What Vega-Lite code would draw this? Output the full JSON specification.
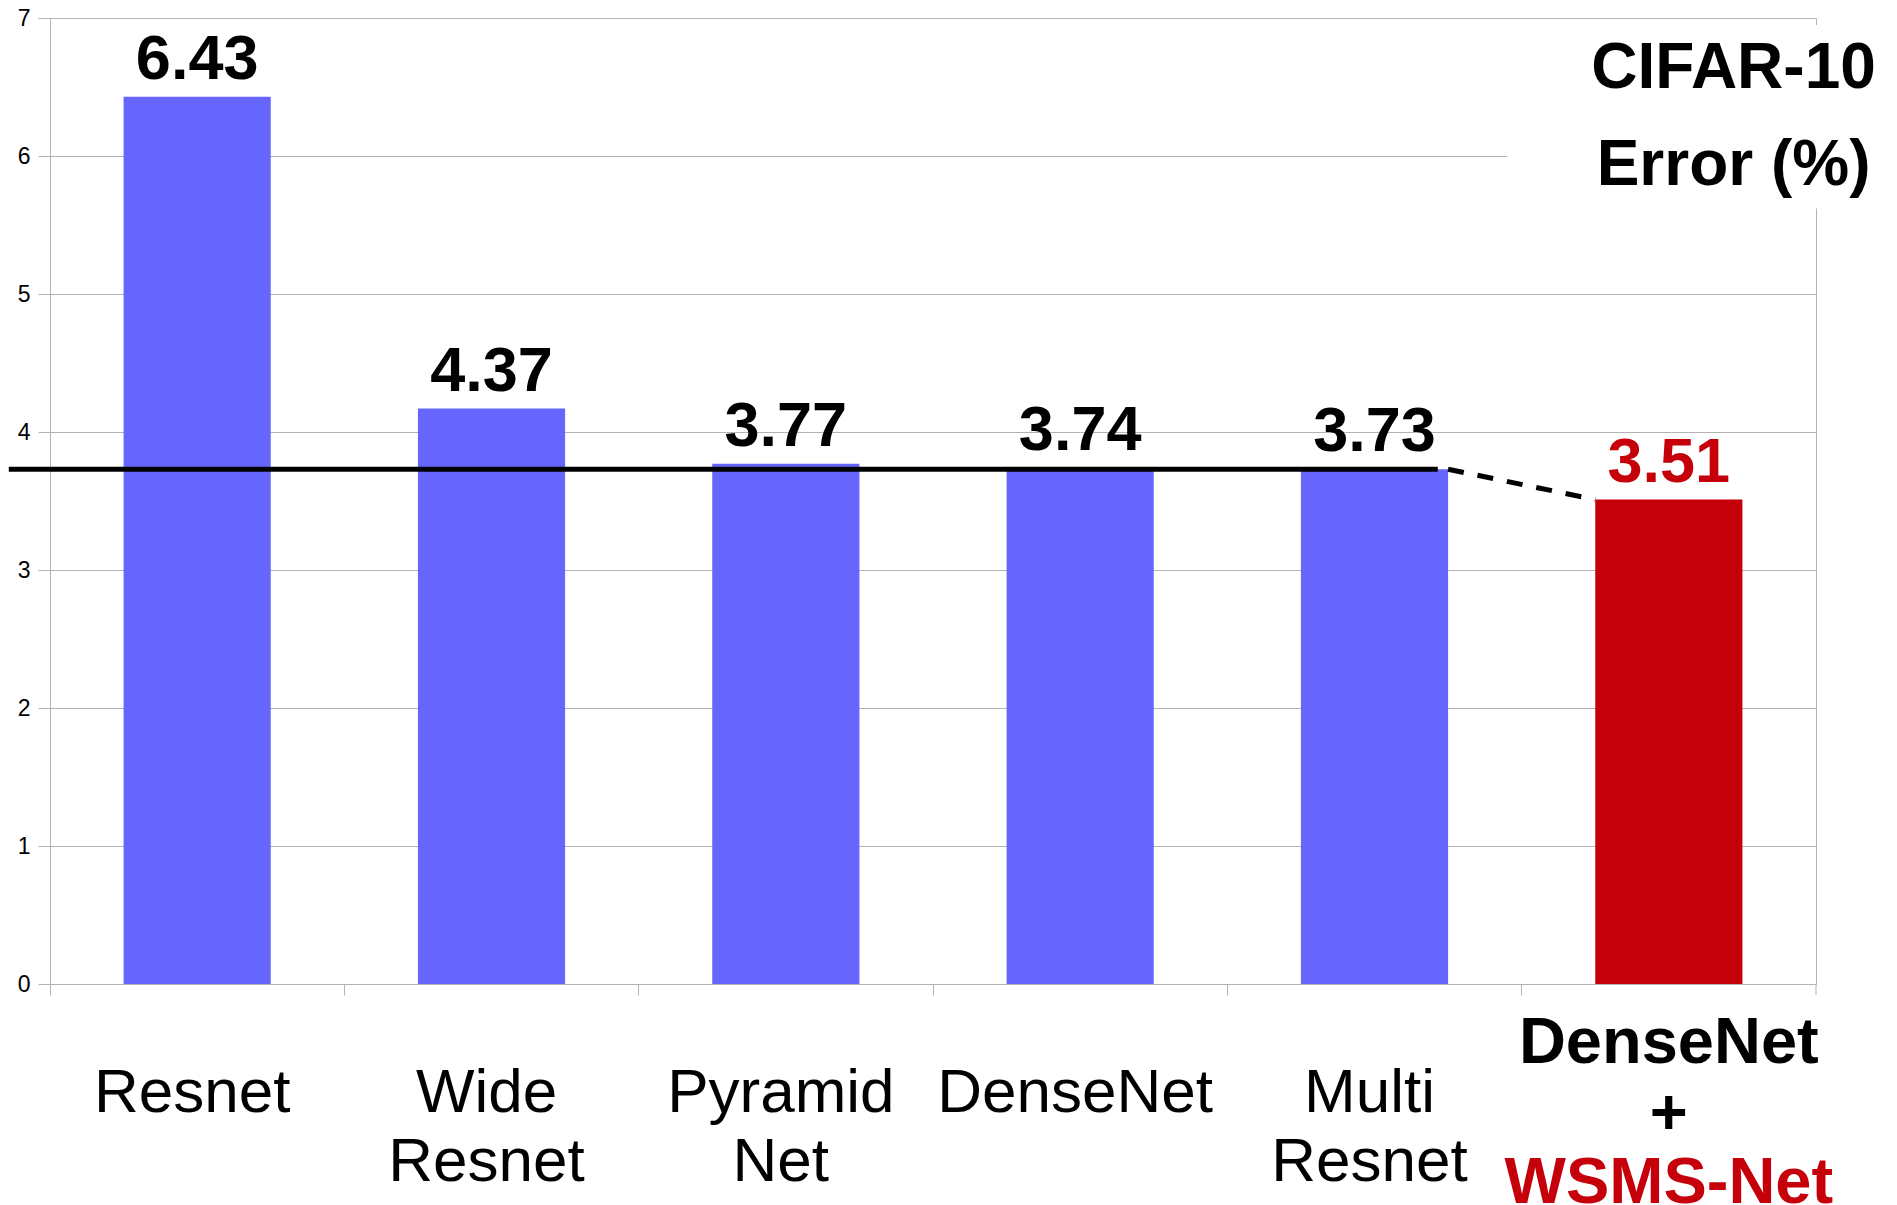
{
  "$schema": "https://vega.github.io/schema/vega-lite/v6.json",
  "width": 1766,
  "height": 966,
  "autosize": {"type": "none"},
  "padding": {"left": 50, "top": 18, "right": 81, "bottom": 221},
  "background": "white",
  "config": {
    "view": {"stroke": "#b3b3b3", "strokeWidth": 1},
    "font": "Liberation Sans",
    "axisX": {"labels": false, "title": null, "bandPosition": -0.5, "tickSize": 11, "tickColor": "#b3b3b3", "domainColor": "#b3b3b3", "grid": false},
    "axisY": {"title": null, "labelFontSize": 23, "labelColor": "#000000", "labelFont": "Liberation Sans", "tickColor": "#b3b3b3", "tickSize": 12, "labelPadding": 8, "domainColor": "#b3b3b3", "gridColor": "#b3b3b3", "gridWidth": 1}
  },
  "datasets": {
    "bars": [
      {"model": "Resnet", "error": 6.43, "label": "6.43", "group": "baseline"},
      {"model": "Wide Resnet", "error": 4.17, "label": "4.37", "group": "baseline"},
      {"model": "Pyramid Net", "error": 3.77, "label": "3.77", "group": "baseline"},
      {"model": "DenseNet", "error": 3.74, "label": "3.74", "group": "baseline"},
      {"model": "Multi Resnet", "error": 3.73, "label": "3.73", "group": "baseline"},
      {"model": "DenseNet + WSMS-Net", "error": 3.51, "label": "3.51", "group": "proposed"}
    ],
    "names": [
      {"model": "Resnet", "line1": "Resnet", "line2": ""},
      {"model": "Wide Resnet", "line1": "Wide", "line2": "Resnet"},
      {"model": "Pyramid Net", "line1": "Pyramid", "line2": "Net"},
      {"model": "DenseNet", "line1": "DenseNet", "line2": ""},
      {"model": "Multi Resnet", "line1": "Multi", "line2": "Resnet"}
    ],
    "proposed": [
      {"model": "DenseNet + WSMS-Net", "line1": "DenseNet", "line2": "+", "line3": "WSMS-Net"}
    ],
    "heading": [
      {"model": "DenseNet + WSMS-Net", "line1": "CIFAR-10", "line2": "Error (%)"}
    ],
    "mean": [
      {"from": "Resnet", "to": "Multi Resnet", "value": 3.73}
    ],
    "link": [
      {"from": "Multi Resnet", "to": "DenseNet + WSMS-Net", "start": 3.73, "end": 3.51}
    ],
    "edge": [
      {"model": "DenseNet + WSMS-Net", "top": 0, "bottom": -0.08}
    ]
  },
  "layer": [
    {
      "data": {"name": "bars"},
      "mark": {"type": "bar"},
      "encoding": {
        "x": {"field": "model", "type": "nominal", "title": null,
              "scale": {"domain": ["Resnet", "Wide Resnet", "Pyramid Net", "DenseNet", "Multi Resnet", "DenseNet + WSMS-Net"], "paddingInner": 0.5, "paddingOuter": 0.25}},
        "y": {"field": "error", "type": "quantitative", "title": null,
              "scale": {"domain": [0, 7], "nice": false, "zero": true},
              "axis": {"values": [0, 1, 2, 3, 4, 5, 6, 7], "format": "d", "grid": true}},
        "color": {"field": "group", "type": "nominal", "legend": null,
                  "scale": {"domain": ["baseline", "proposed"], "range": ["#6666ff", "#c5000b"]}}
      }
    },
    {
      "data": {"name": "edge"},
      "mark": {"type": "rule", "color": "#b3b3b3", "strokeWidth": 1},
      "encoding": {
        "x": {"field": "model", "type": "nominal", "title": null, "bandPosition": 1.5},
        "y": {"field": "top", "type": "quantitative", "title": null},
        "y2": {"field": "bottom"}
      }
    },
    {
      "data": {"name": "bars"},
      "mark": {"type": "text", "fontSize": 63, "fontWeight": "bold", "baseline": "alphabetic", "align": "center", "dy": -18},
      "encoding": {
        "x": {"field": "model", "type": "nominal", "title": null},
        "y": {"field": "error", "type": "quantitative", "title": null},
        "text": {"field": "label"},
        "color": {"condition": {"test": "datum.group === 'proposed'", "value": "#c5000b"}, "value": "#000000"}
      }
    },
    {
      "data": {"name": "names"},
      "mark": {"type": "text", "fontSize": 62, "baseline": "alphabetic", "align": "center", "color": "#000000", "dx": -5},
      "encoding": {
        "x": {"field": "model", "type": "nominal", "title": null},
        "y": {"datum": -0.93},
        "text": {"field": "line1"}
      }
    },
    {
      "data": {"name": "names"},
      "mark": {"type": "text", "fontSize": 62, "baseline": "alphabetic", "align": "center", "color": "#000000", "dx": -5},
      "encoding": {
        "x": {"field": "model", "type": "nominal", "title": null},
        "y": {"datum": -1.43},
        "text": {"field": "line2"}
      }
    },
    {
      "data": {"name": "proposed"},
      "mark": {"type": "text", "fontSize": 65, "fontWeight": "bold", "baseline": "alphabetic", "align": "center", "color": "#000000"},
      "encoding": {
        "x": {"field": "model", "type": "nominal", "title": null},
        "y": {"datum": -0.57},
        "text": {"field": "line1"}
      }
    },
    {
      "data": {"name": "proposed"},
      "mark": {"type": "text", "fontSize": 65, "fontWeight": "bold", "baseline": "alphabetic", "align": "center", "color": "#000000"},
      "encoding": {
        "x": {"field": "model", "type": "nominal", "title": null},
        "y": {"datum": -1.09},
        "text": {"field": "line2"}
      }
    },
    {
      "data": {"name": "proposed"},
      "mark": {"type": "text", "fontSize": 65, "fontWeight": "bold", "baseline": "alphabetic", "align": "center", "color": "#c5000b"},
      "encoding": {
        "x": {"field": "model", "type": "nominal", "title": null},
        "y": {"datum": -1.59},
        "text": {"field": "line3"}
      }
    },
    {
      "data": {"name": "mean"},
      "mark": {"type": "rule", "color": "#000000", "strokeWidth": 5},
      "encoding": {
        "x": {"field": "from", "type": "nominal", "title": null, "bandPosition": -0.78},
        "x2": {"field": "to", "bandPosition": 0.93},
        "y": {"field": "value", "type": "quantitative", "title": null}
      }
    },
    {
      "data": {"name": "link"},
      "mark": {"type": "rule", "color": "#000000", "strokeWidth": 5, "strokeDash": [16, 14]},
      "encoding": {
        "x": {"field": "from", "type": "nominal", "title": null, "bandPosition": 1},
        "x2": {"field": "to", "bandPosition": 0},
        "y": {"field": "start", "type": "quantitative", "title": null},
        "y2": {"field": "end"}
      }
    },
    {
      "data": {"name": "heading"},
      "mark": {"type": "rect", "color": "#ffffff"},
      "encoding": {
        "x": {"field": "model", "type": "nominal", "title": null, "bandPosition": -0.6},
        "x2": {"field": "model", "bandPosition": 2.05},
        "y": {"datum": 6.95},
        "y2": {"datum": 5.62}
      }
    },
    {
      "data": {"name": "heading"},
      "mark": {"type": "text", "fontSize": 64, "fontWeight": "bold", "baseline": "alphabetic", "align": "center", "color": "#000000"},
      "encoding": {
        "x": {"field": "model", "type": "nominal", "title": null, "bandPosition": 0.94},
        "y": {"datum": 6.49},
        "text": {"field": "line1"}
      }
    },
    {
      "data": {"name": "heading"},
      "mark": {"type": "text", "fontSize": 64, "fontWeight": "bold", "baseline": "alphabetic", "align": "center", "color": "#000000"},
      "encoding": {
        "x": {"field": "model", "type": "nominal", "title": null, "bandPosition": 0.94},
        "y": {"datum": 5.79},
        "text": {"field": "line2"}
      }
    }
  ]
}
